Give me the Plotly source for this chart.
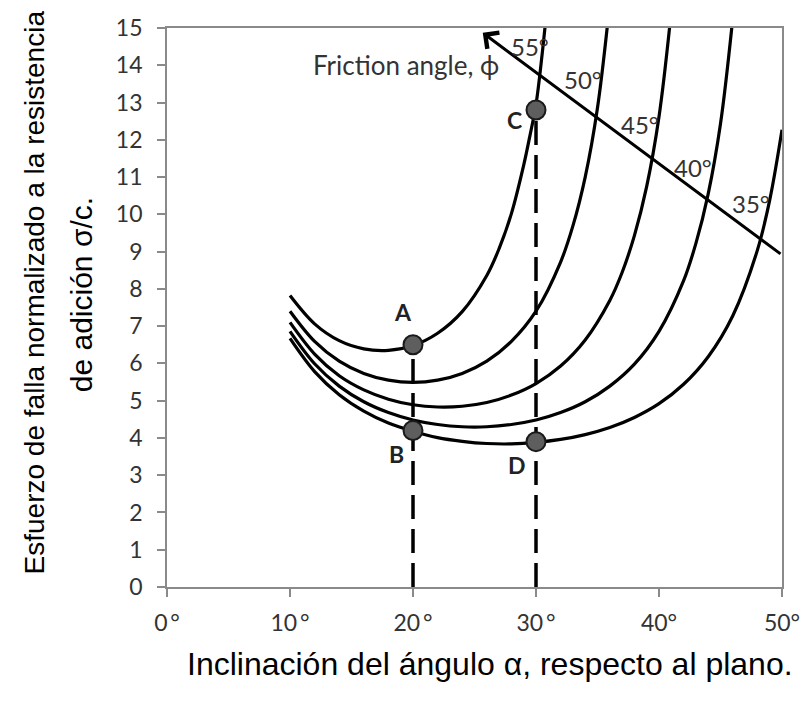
import plotly.graph_objects as go

# Failure stress (sigma/c) versus plane inclination alpha, one curve per friction angle
alpha_55 = [10, 12, 14, 16, 18, 20, 22, 24, 26, 27, 28, 29, 29.5, 30, 30.5, 31]
sigma_55 = [7.82, 7.06, 6.61, 6.39, 6.35, 6.48, 6.81, 7.39, 8.36, 9.08, 10.02, 11.32, 12.1, 12.95, 14.3, 15.9]

alpha_50 = [10, 12, 14, 16, 18, 20, 22, 24, 26, 28, 30, 32, 33, 34, 35, 36]
sigma_50 = [7.40, 6.59, 6.06, 5.73, 5.55, 5.49, 5.55, 5.73, 6.06, 6.59, 7.40, 8.72, 9.69, 11.0, 12.86, 15.67]

alpha_45 = [10, 12, 14, 16, 18, 20, 22, 24, 26, 28, 30, 32, 34, 36, 37, 38, 39, 40, 41]
sigma_45 = [7.10, 6.25, 5.67, 5.29, 5.04, 4.89, 4.83, 4.85, 4.95, 5.15, 5.46, 5.93, 6.63, 7.69, 8.44, 9.43, 10.75, 12.62, 15.45]

alpha_40 = [10, 12, 14, 16, 18, 20, 22, 24, 26, 28, 30, 32, 34, 36, 38, 40, 42, 43, 44, 45, 46]
sigma_40 = [6.86, 5.99, 5.39, 4.97, 4.68, 4.48, 4.36, 4.30, 4.30, 4.36, 4.48, 4.68, 4.97, 5.39, 5.98, 6.86, 8.22, 9.22, 10.55, 12.43, 15.27]

alpha_35 = [10, 12, 14, 16, 18, 20, 22, 24, 26, 28, 30, 32, 34, 36, 38, 40, 42, 44, 46, 48, 49, 50]
sigma_35 = [6.67, 5.78, 5.16, 4.72, 4.40, 4.18, 4.01, 3.91, 3.85, 3.84, 3.88, 3.96, 4.09, 4.28, 4.55, 4.92, 5.44, 6.18, 7.28, 9.04, 10.38, 12.27]

# Marked points
point_labels = ["A", "B", "C", "D"]
point_alpha = [20, 20, 30, 30]
point_sigma = [6.5, 4.2, 12.8, 3.9]

# Friction-angle labels along the arrow
phi_labels = ["55°", "50°", "45°", "40°", "35°"]

# Axis ticks
x_tickvals = [0, 10, 20, 30, 40, 50]
x_ticktext = ["0\u2009°", "10\u2009°", "20\u2009°", "30\u2009°", "40°", "50°"]
y_tickvals = list(range(0, 16))

CURVE = dict(color="black", width=3.2)
TXT = "Lato, Open Sans, sans-serif"

fig = go.Figure()

for xs, ys in [(alpha_55, sigma_55), (alpha_50, sigma_50), (alpha_45, sigma_45),
               (alpha_40, sigma_40), (alpha_35, sigma_35)]:
    fig.add_trace(go.Scatter(x=xs, y=ys, mode="lines", line=CURVE,
                             line_shape="spline", hoverinfo="skip", showlegend=False))

# dashed drop lines from A and C to the axis
for xv, yv in [(point_alpha[0], point_sigma[0]), (point_alpha[2], point_sigma[2])]:
    fig.add_trace(go.Scatter(x=[xv, xv], y=[0, yv], mode="lines",
                             line=dict(color="black", width=3.5, dash="24px,10px"),
                             hoverinfo="skip", showlegend=False))

fig.add_trace(go.Scatter(x=point_alpha, y=point_sigma, mode="markers",
                         marker=dict(size=19, color="#5e5e5e",
                                     line=dict(color="#1a1a1a", width=2)),
                         hoverinfo="skip", showlegend=False))

annotations = []

# point letters
letter_pos = [(19.22, 7.37), (18.68, 3.58), (28.27, 12.53), (28.49, 3.27)]
for lab, (lx, ly) in zip(point_labels, letter_pos):
    annotations.append(dict(x=lx, y=ly, xref="x", yref="y", text=f"<b>{lab}</b>",
                            showarrow=False, font=dict(family=TXT, size=23, color="#222")))

# friction-angle arrow
annotations.append(dict(x=25.67, y=14.87, ax=50, ay=8.91, xref="x", yref="y",
                        axref="x", ayref="y", text="", showarrow=True,
                        arrowhead=4, arrowsize=1.3, arrowwidth=3, arrowcolor="black",
                        standoff=0))
annotations.append(dict(x=11.72, y=14.0, xref="x", yref="y", xanchor="left",
                        text="Friction angle, ϕ", showarrow=False,
                        font=dict(family=TXT, size=26, color="#333")))

phi_pos = [(29.55, 14.5), (33.8, 13.61), (38.45, 12.4), (42.8, 11.27), (47.45, 10.3)]
for lab, (lx, ly) in zip(phi_labels, phi_pos):
    annotations.append(dict(x=lx, y=ly, xref="x", yref="y", text=lab, showarrow=False,
                            font=dict(family=TXT, size=24, color="#333")))

# axis titles
annotations.append(dict(x=0.526, y=-0.1384, xref="paper", yref="paper",
                        text="Inclinación del ángulo α, respecto al plano.",
                        showarrow=False, xanchor="center", yanchor="middle",
                        font=dict(family="Liberation Sans, Arial", size=32, color="black")))
annotations.append(dict(x=-0.2156, y=0.5277, xref="paper", yref="paper",
                        text="Esfuerzo de falla normalizado a la resistencia",
                        textangle=-90, showarrow=False, xanchor="center", yanchor="middle",
                        font=dict(family="Liberation Sans, Arial", size=28, color="black")))
annotations.append(dict(x=-0.1398, y=0.522, xref="paper", yref="paper",
                        text="de adición σ/c.",
                        textangle=-90, showarrow=False, xanchor="center", yanchor="middle",
                        font=dict(family="Liberation Sans, Arial", size=30, color="black")))

AX = dict(showgrid=False, zeroline=False, showline=True, mirror=True,
          linecolor="#8a8a8a", linewidth=1.8, ticks="outside", ticklen=8,
          tickwidth=1.5, tickcolor="#8a8a8a",
          tickfont=dict(family=TXT, size=23, color="#333"))

fig.update_layout(
    width=812, height=702,
    margin=dict(l=167, r=25, t=28, b=115),
    paper_bgcolor="white", plot_bgcolor="white",
    showlegend=False,
    annotations=annotations,
    xaxis=dict(range=[0, 50], tickvals=x_tickvals, ticktext=x_ticktext,
               ticklabelstandoff=6, **AX),
    yaxis=dict(range=[0, 15], tickvals=y_tickvals, ticklabelstandoff=10, **AX),
)

fig.write_html("out.html")
